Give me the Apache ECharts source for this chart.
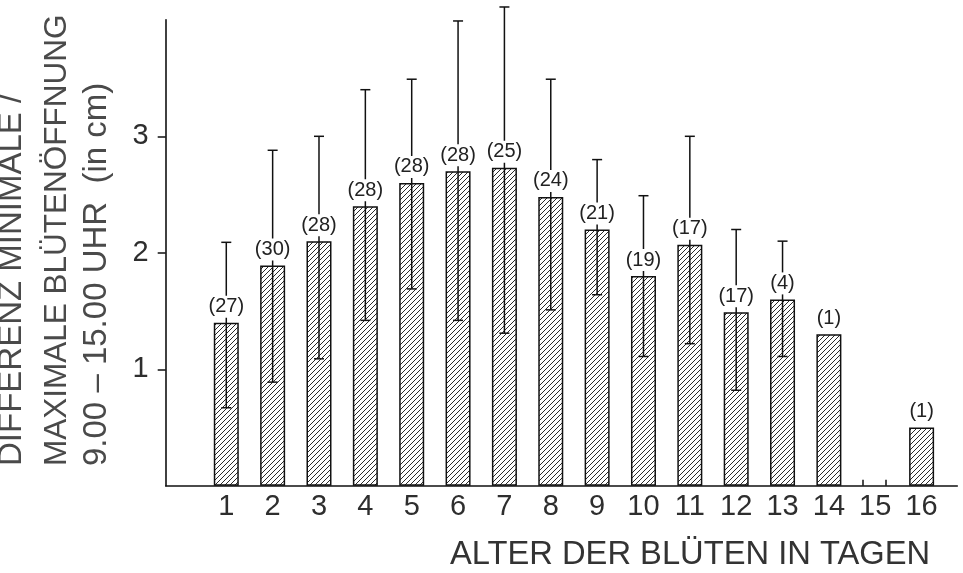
<!DOCTYPE html>
<html><head><meta charset="utf-8">
<script src="https://cdn.jsdelivr.net/npm/echarts@6/dist/echarts.min.js"></script>
<style>html,body{margin:0;padding:0;background:#fff}#c{width:963px;height:573px}</style>
</head><body><div id="c"></div>
<script>
// ---- data ----
const ages = [1,2,3,4,5,6,7,8,9,10,11,12,13,14,15,16];
const means = [1.40,1.89,2.10,2.40,2.60,2.70,2.73,2.48,2.20,1.80,2.07,1.49,1.60,1.30,null,0.50];
const errLow = [0.67,0.89,1.09,1.42,1.69,1.42,1.31,1.51,1.64,1.11,1.22,0.82,1.11,null,null,null];
const errHigh = [2.09,2.88,3.00,3.40,3.49,3.99,4.11,3.49,2.80,2.49,3.00,2.20,2.10,null,null,null];
const sampleSizes = ['(27)','(30)','(28)','(28)','(28)','(28)','(25)','(24)','(21)','(19)','(17)','(17)','(4)','(1)',null,'(1)'];
const yTicks = [1,2,3];
const emptySlotTicks = [14.74,15.23];
const yTitleLines = ['DIFFERENZ MINIMALE /','MAXIMALE BLÜTENÖFFNUNG','9.00 – 15.00 UHR  (in cm)'];
const xTitle = 'ALTER DER BLÜTEN IN TAGEN';

const FONT = '"Liberation Sans", Arial, sans-serif';

function hatch(){
  const s = 5;
  const c = document.createElement('canvas');
  c.width = s; c.height = s;
  const g = c.getContext('2d');
  g.fillStyle = '#fff'; g.fillRect(0,0,s,s);
  g.strokeStyle = '#2a2a2a'; g.lineWidth = 1;
  g.beginPath();
  g.moveTo(0,s); g.lineTo(s,0);
  g.moveTo(-1,1); g.lineTo(1,-1);
  g.moveTo(s-1,s+1); g.lineTo(s+1,s-1);
  g.stroke();
  return c;
}

const barData = ages.map((a,i)=> means[i]==null ? null : [a, means[i]]).filter(d=>d);
const errData = ages.map((a,i)=> [a, means[i]==null?0:means[i], i]);

const chart = echarts.init(document.getElementById('c'), null, {renderer:'canvas'});
chart.setOption({
  animation:false,
  backgroundColor:'#fff',
  grid:{left:165.7, right:5.7, top:19.8, bottom:87.2, containLabel:false},
  xAxis:{
    type:'value', min:-0.307, max:16.77,
    axisLine:{show:true, onZero:false, lineStyle:{color:'#111', width:1.6}},
    axisTick:{show:true, customValues:emptySlotTicks, inside:true, length:6, lineStyle:{color:'#111', width:1.5}},
    axisLabel:{customValues:ages, fontSize:29, fontFamily:FONT, color:'#2e2e2e', margin:7},
    splitLine:{show:false}
  },
  yAxis:{
    type:'value', min:0, max:4, interval:1,
    axisLine:{show:true, onZero:false, lineStyle:{color:'#111', width:1.6}},
    axisTick:{show:true, customValues:yTicks, length:8, lineStyle:{color:'#111', width:1.5}},
    axisLabel:{customValues:yTicks, fontSize:29, fontFamily:FONT, color:'#2e2e2e', margin:17},
    splitLine:{show:false}
  },
  series:[
    {
      type:'bar', data:barData, barWidth:25, z:2,
      itemStyle:{color:{image:hatch(), repeat:'repeat'}, borderColor:'#111', borderWidth:1.5}
    },
    {
      type:'custom', data:errData, z:3, clip:false,
      encode:{x:0, y:1},
      renderItem:function(params, api){
        const i = params.dataIndex;
        if (means[i]==null) return {type:'group', children:[]};
        const x = api.value(0);
        const top = api.coord([x, means[i]]);
        const children = [];
        if (errLow[i]!=null && errHigh[i]!=null){
          const lo = api.coord([x, errLow[i]]);
          const hi = api.coord([x, errHigh[i]]);
          const cap = 5;
          const st = {stroke:'#111', lineWidth:1.5};
          children.push({type:'line', shape:{x1:lo[0], y1:lo[1], x2:hi[0], y2:hi[1]}, style:st});
          children.push({type:'line', shape:{x1:hi[0]-cap, y1:hi[1], x2:hi[0]+cap, y2:hi[1]}, style:st});
          children.push({type:'line', shape:{x1:lo[0]-cap, y1:lo[1], x2:lo[0]+cap, y2:lo[1]}, style:st});
        }
        if (sampleSizes[i]){
          children.push({type:'text', x:top[0], y:top[1]-5, z2:10, style:{
            text:sampleSizes[i], fontSize:20, fontFamily:FONT, fill:'#222',
            align:'center', verticalAlign:'bottom', textAlign:'center', textVerticalAlign:'bottom',
            backgroundColor:'#fff', padding:[1,1,1,1]
          }});
        }
        return {type:'group', children:children};
      }
    }
  ],
  graphic:[
    {type:'text', x:12, y:466, rotation:Math.PI/2, style:{text:yTitleLines[0], font:'33px '+FONT, fill:'#4a4a4a', align:'left', verticalAlign:'middle'}},
    {type:'text', x:57, y:466, rotation:Math.PI/2, style:{text:yTitleLines[1], font:'31.5px '+FONT, fill:'#4a4a4a', align:'left', verticalAlign:'middle'}},
    {type:'text', x:97, y:466, rotation:Math.PI/2, style:{text:yTitleLines[2], font:'33px '+FONT, fill:'#4a4a4a', align:'left', verticalAlign:'middle'}},
    {type:'text', x:450, y:555, style:{text:xTitle, font:'32.7px '+FONT, fill:'#333', align:'left', verticalAlign:'middle'}}
  ]
});
</script>
</body></html>
